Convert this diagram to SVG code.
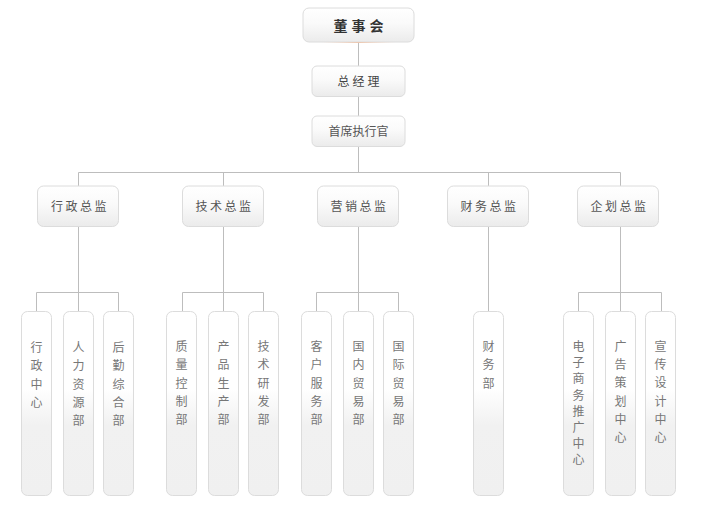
<svg xmlns="http://www.w3.org/2000/svg" width="710" height="510" viewBox="0 0 710 510">
<defs>
<linearGradient id="gh" x1="0" y1="0" x2="0" y2="1">
<stop offset="0" stop-color="#ffffff"/>
<stop offset="0.45" stop-color="#fafafa"/>
<stop offset="1" stop-color="#ebebeb"/>
</linearGradient>
<linearGradient id="gv" x1="0" y1="0" x2="0" y2="1">
<stop offset="0" stop-color="#ffffff"/>
<stop offset="0.42" stop-color="#ffffff"/>
<stop offset="0.62" stop-color="#f1f1f1"/>
<stop offset="1" stop-color="#f0f0f0"/>
</linearGradient>
<linearGradient id="glow" x1="0" y1="0" x2="1" y2="0">
<stop offset="0" stop-color="#f0d8c8" stop-opacity="0"/>
<stop offset="0.5" stop-color="#ecc6ae"/>
<stop offset="1" stop-color="#f0d8c8" stop-opacity="0"/>
</linearGradient>
</defs>
<style>
.h{fill:url(#gh);stroke:#dcdcdc;stroke-width:1}
.v{fill:url(#gv);stroke:#dcdcdc;stroke-width:1}
.c{fill:none;stroke:#bdbdbd;stroke-width:1}
text{font-family:"Noto Sans CJK SC","Noto Sans",sans-serif;fill:#555;text-anchor:middle}
.t1{font-size:14px;font-weight:bold;fill:#333;letter-spacing:4px}
.t2{font-size:12px;fill:#444;letter-spacing:3px}
.t3{font-size:12px;fill:#555}
.t4{font-size:12px;fill:#555;letter-spacing:2.5px}
.tv{font-size:12px;fill:#777}
</style>
<rect width="710" height="510" fill="#fff"/>
<g id="connectors">
<path class="c" d="M358.5 42V66M358.5 96.5V116M358.5 146.5V172.5M78.5 172.5H620.5M78.5 172.5V186M223.5 172.5V186M488.5 172.5V186M620.5 172.5V186"/>
<path class="c" d="M78.5 226.5V292.5M36.5 311V292.5H118.5V311M78.5 292.5V311"/>
<path class="c" d="M223.5 226.5V292.5M182.5 311V292.5H263.5V311M223.5 292.5V311"/>
<path class="c" d="M358.5 226.5V292.5M316.5 311V292.5H398.5V311M358.5 292.5V311"/>
<path class="c" d="M488.5 226.5V311"/>
<path class="c" d="M620.5 226.5V292.5M578.5 311V292.5H661.5V311M620.5 292.5V311"/>
</g>
<g id="n-board">
<rect class="h" x="303" y="8" width="111" height="34" rx="6"/>
<rect x="322" y="42" width="73" height="1" fill="url(#glow)"/>
<text class="t1" x="360.5" y="31">董事会</text>
</g>
<g id="n-gm">
<rect class="h" x="312" y="66" width="93" height="30.5" rx="5"/>
<text class="t2" x="360" y="85.5">总经理</text>
</g>
<g id="n-ceo">
<rect class="h" x="312" y="116" width="93" height="30.5" rx="5"/>
<text class="t3" x="358.5" y="135.5">首席执行官</text>
</g>
<g id="n-admin"><rect class="h" x="37.5" y="186" width="81" height="40.5" rx="6"/><text class="t4" x="80" y="211">行政总监</text></g>
<g id="n-tech"><rect class="h" x="182.5" y="186" width="81" height="40.5" rx="6"/><text class="t4" x="224.5" y="211">技术总监</text></g>
<g id="n-mkt"><rect class="h" x="317.5" y="186" width="81" height="40.5" rx="6"/><text class="t4" x="359.5" y="211">营销总监</text></g>
<g id="n-fin"><rect class="h" x="447.5" y="186" width="81" height="40.5" rx="6"/><text class="t4" x="489.5" y="211">财务总监</text></g>
<g id="n-plan"><rect class="h" x="577.5" y="186" width="81" height="40.5" rx="6"/><text class="t4" x="619.5" y="211">企划总监</text></g>

<g id="d1"><rect class="v" x="21.5" y="311.5" width="30" height="184" rx="6"/><text class="tv" y="352"><tspan x="36.5">行</tspan><tspan x="36.5" dy="18.3">政</tspan><tspan x="36.5" dy="18.3">中</tspan><tspan x="36.5" dy="18.3">心</tspan></text></g>
<g id="d2"><rect class="v" x="63.5" y="311.5" width="30" height="184" rx="6"/><text class="tv" y="352"><tspan x="78.5">人</tspan><tspan x="78.5" dy="18.3">力</tspan><tspan x="78.5" dy="18.3">资</tspan><tspan x="78.5" dy="18.3">源</tspan><tspan x="78.5" dy="18.3">部</tspan></text></g>
<g id="d3"><rect class="v" x="103.5" y="311.5" width="30" height="184" rx="6"/><text class="tv" y="352"><tspan x="118.5">后</tspan><tspan x="118.5" dy="18.3">勤</tspan><tspan x="118.5" dy="18.3">综</tspan><tspan x="118.5" dy="18.3">合</tspan><tspan x="118.5" dy="18.3">部</tspan></text></g>
<g id="d4"><rect class="v" x="166.5" y="311.5" width="30" height="184" rx="6"/><text class="tv" y="351"><tspan x="181.5">质</tspan><tspan x="181.5" dy="18.3">量</tspan><tspan x="181.5" dy="18.3">控</tspan><tspan x="181.5" dy="18.3">制</tspan><tspan x="181.5" dy="18.3">部</tspan></text></g>
<g id="d5"><rect class="v" x="208.5" y="311.5" width="30" height="184" rx="6"/><text class="tv" y="351"><tspan x="223.5">产</tspan><tspan x="223.5" dy="18.3">品</tspan><tspan x="223.5" dy="18.3">生</tspan><tspan x="223.5" dy="18.3">产</tspan><tspan x="223.5" dy="18.3">部</tspan></text></g>
<g id="d6"><rect class="v" x="248.5" y="311.5" width="30" height="184" rx="6"/><text class="tv" y="351"><tspan x="263.5">技</tspan><tspan x="263.5" dy="18.3">术</tspan><tspan x="263.5" dy="18.3">研</tspan><tspan x="263.5" dy="18.3">发</tspan><tspan x="263.5" dy="18.3">部</tspan></text></g>
<g id="d7"><rect class="v" x="301.5" y="311.5" width="30" height="184" rx="6"/><text class="tv" y="351"><tspan x="316.5">客</tspan><tspan x="316.5" dy="18.3">户</tspan><tspan x="316.5" dy="18.3">服</tspan><tspan x="316.5" dy="18.3">务</tspan><tspan x="316.5" dy="18.3">部</tspan></text></g>
<g id="d8"><rect class="v" x="343.5" y="311.5" width="30" height="184" rx="6"/><text class="tv" y="351"><tspan x="358.5">国</tspan><tspan x="358.5" dy="18.3">内</tspan><tspan x="358.5" dy="18.3">贸</tspan><tspan x="358.5" dy="18.3">易</tspan><tspan x="358.5" dy="18.3">部</tspan></text></g>
<g id="d9"><rect class="v" x="383.5" y="311.5" width="30" height="184" rx="6"/><text class="tv" y="351"><tspan x="398.5">国</tspan><tspan x="398.5" dy="18.3">际</tspan><tspan x="398.5" dy="18.3">贸</tspan><tspan x="398.5" dy="18.3">易</tspan><tspan x="398.5" dy="18.3">部</tspan></text></g>
<g id="d10"><rect class="v" x="473.5" y="311.5" width="30" height="184" rx="6"/><text class="tv" y="351"><tspan x="488.5">财</tspan><tspan x="488.5" dy="18.3">务</tspan><tspan x="488.5" dy="18.3">部</tspan></text></g>
<g id="d11"><rect class="v" x="563.5" y="311.5" width="30" height="184" rx="6"/><text class="tv" y="351"><tspan x="578.5">电</tspan><tspan x="578.5" dy="16.2">子</tspan><tspan x="578.5" dy="16.2">商</tspan><tspan x="578.5" dy="16.2">务</tspan><tspan x="578.5" dy="16.2">推</tspan><tspan x="578.5" dy="16.2">广</tspan><tspan x="578.5" dy="16.2">中</tspan><tspan x="578.5" dy="16.2">心</tspan></text></g>
<g id="d12"><rect class="v" x="605.5" y="311.5" width="30" height="184" rx="6"/><text class="tv" y="351"><tspan x="620.5">广</tspan><tspan x="620.5" dy="18.2">告</tspan><tspan x="620.5" dy="18.2">策</tspan><tspan x="620.5" dy="18.2">划</tspan><tspan x="620.5" dy="18.2">中</tspan><tspan x="620.5" dy="18.2">心</tspan></text></g>
<g id="d13"><rect class="v" x="645.5" y="311.5" width="30" height="184" rx="6"/><text class="tv" y="351"><tspan x="660.5">宣</tspan><tspan x="660.5" dy="18.2">传</tspan><tspan x="660.5" dy="18.2">设</tspan><tspan x="660.5" dy="18.2">计</tspan><tspan x="660.5" dy="18.2">中</tspan><tspan x="660.5" dy="18.2">心</tspan></text></g>
</svg>
